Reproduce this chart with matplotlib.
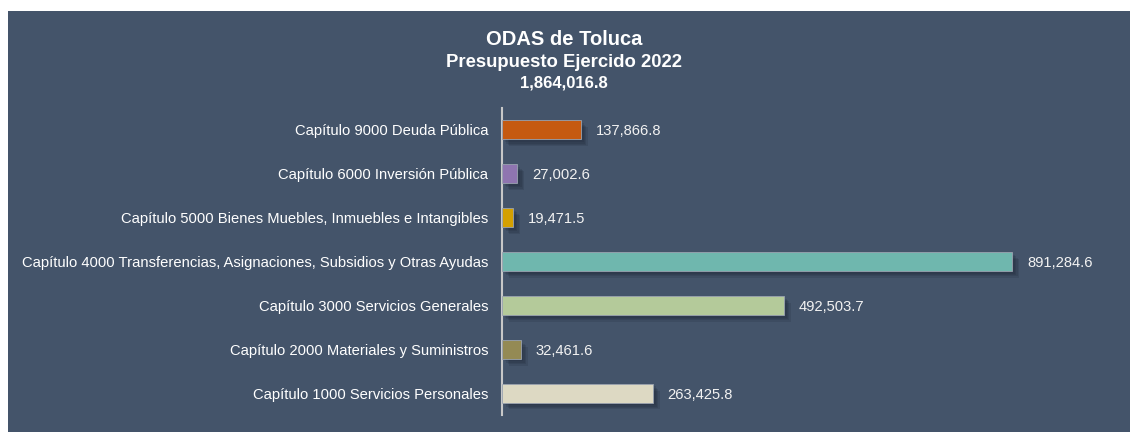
#!/usr/bin/env python3
# -*- coding: utf-8 -*-

import matplotlib
matplotlib.use('Agg')
import matplotlib.pyplot as plt
import matplotlib.patheffects as pe
from matplotlib.transforms import offset_copy

plt.rc('font', family=['Liberation Sans', 'DejaVu Sans'])

# Datos (de abajo hacia arriba)
capitulos = [
    'Capítulo 1000 Servicios Personales',
    'Capítulo 2000 Materiales y Suministros',
    'Capítulo 3000 Servicios Generales',
    'Capítulo 4000 Transferencias, Asignaciones, Subsidios y Otras Ayudas',
    'Capítulo 5000 Bienes Muebles, Inmuebles e Intangibles',
    'Capítulo 6000 Inversión Pública',
    'Capítulo 9000 Deuda Pública',
]
montos = [263425.8, 32461.6, 492503.7, 891284.6, 19471.5, 27002.6, 137866.8]
colores = ['#DDD9C3', '#948A54', '#B4CA9A', '#6FB7AE', '#D4A000', '#8F75B0', '#C55A11']
total = '1,864,016.8'

fondo = '#44546A'
W, H = 1131, 432

fig = plt.figure(figsize=(W/100, H/100), dpi=100, facecolor='white')

# panel de fondo
bg = fig.add_axes([8/W, 0, (1130-8)/W, (H-11)/H], zorder=-1)
bg.set_facecolor(fondo)
bg.set_xticks([])
bg.set_yticks([])
for s in bg.spines.values():
    s.set_visible(False)

ax = fig.add_axes([502/W, (H-415)/H, (1122-502)/W, (415-108)/H])
ax.set_facecolor('none')

y = range(len(montos))
# sombra difusa hacia abajo a la derecha
sombra = [pe.SimplePatchShadow(offset=(d, -d), shadow_rgbFace='#1c2533', alpha=0.16)
          for d in (5, 4, 3, 2)] + [pe.Normal()]
barras = ax.barh(y, montos, height=0.43, color=colores, edgecolor='#9aa3b0', linewidth=0.6, zorder=3)
for b in barras:
    b.set_path_effects(sombra)

tr = offset_copy(ax.transData, fig=fig, x=15, y=0, units='dots')
for i, v in enumerate(montos):
    ax.text(v, i, '{:,.1f}'.format(v), va='center_baseline', ha='left',
            color='#F2F2F2', fontsize=10.6, transform=tr)

ax.set_xlim(0, (1122-502)/(510/891284.6))
ax.set_ylim(-0.5, len(montos)-0.5)
ax.set_yticks(list(y))
ax.set_yticklabels(capitulos, fontsize=10.6, color='white', va='center_baseline')
ax.tick_params(axis='y', length=0, pad=10)
ax.set_xticks([])
for s in ['top', 'right', 'bottom']:
    ax.spines[s].set_visible(False)
ax.spines['left'].set_color('#C8C8C8')
ax.spines['left'].set_linewidth(1.5)

fig.text(564/W, 1-45/H, 'ODAS de Toluca', ha='center', va='baseline', fontsize=14.5,
         fontweight='bold', color='white')
fig.text(564/W, 1-67/H, 'Presupuesto Ejercido 2022', ha='center', va='baseline', fontsize=13.3,
         fontweight='bold', color='white')
fig.text(564/W, 1-88/H, total, ha='center', va='baseline', fontsize=12,
         fontweight='bold', color='white')

plt.savefig('out.png', dpi=100, facecolor='white')
